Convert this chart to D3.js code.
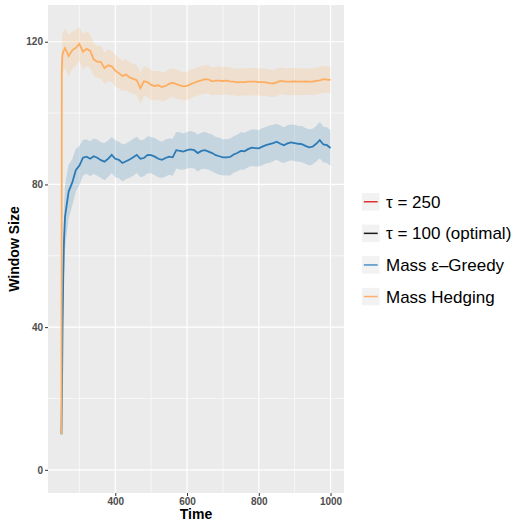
<!DOCTYPE html>
<html>
<head>
<meta charset="utf-8">
<script src="https://cdn.jsdelivr.net/npm/d3@7"></script>
<style>
  body { margin: 0; background: #fff; }
  svg { display: block; font-family: "Liberation Sans", Arial, sans-serif; }
</style>
</head>
<body>
<script>
// time steps (x)
var times = [250, 251, 252, 253, 255, 257,
  260, 270, 280, 290, 300, 310, 320, 330, 340, 350,
  360, 370, 380, 390, 400, 410, 420, 430, 440, 450,
  460, 470, 480, 490, 500, 510, 520, 530, 540, 550,
  560, 570, 580, 590, 600, 610, 620, 630, 640, 650,
  660, 670, 680, 690, 700, 710, 720, 730, 740, 750,
  760, 770, 780, 790, 800, 810, 820, 830, 840, 850,
  860, 870, 880, 890, 900, 910, 920, 930, 940, 950,
  960, 970, 980, 990, 1000];

// Mass Hedging
var hedging = [10, 112, 115, 116.5, 117.2, 117.6,
  118.2, 116.0, 117.6, 118.3, 119.4, 117.2, 118.0, 117.5, 115.0, 114.4,
  114.3, 112.6, 113.4, 113.1, 111.9, 111.2, 110.4, 110.8, 110.0, 109.6,
  109.2, 107.0, 108.9, 108.7, 107.9, 107.6, 107.8, 107.3, 107.6, 108.2,
  108.5, 108.1, 107.8, 107.5, 107.6, 108.1, 108.5, 108.9, 109.2, 109.5,
  109.4, 108.9, 109.1, 109.1, 109.0, 109.1, 108.9, 108.8, 108.6, 108.7,
  108.7, 108.8, 108.8, 108.8, 108.7, 108.7, 108.6, 108.4, 108.3, 108.6,
  109.0, 108.9, 108.8, 108.8, 108.9, 108.8, 108.8, 108.9, 108.8, 108.8,
  109.0, 109.2, 109.5, 109.4, 109.3];
var hedgingBand = [0, 5, 5.5, 5.5, 5.5, 5.5,
  5.5, 5.8, 5.2, 5.0, 4.8, 5.0, 4.9, 4.7, 4.6, 4.5,
  4.6, 4.4, 4.5, 4.3, 4.4, 4.3, 4.2, 4.4, 4.3, 4.2,
  4.3, 4.4, 4.2, 4.1, 4.2, 4.1, 4.0, 4.1, 4.0, 4.1,
  4.0, 4.1, 4.0, 3.9, 4.0, 4.1, 4.0, 4.0, 3.9, 4.0,
  4.0, 3.9, 3.9, 4.0, 3.9, 3.9, 3.9, 3.8, 3.9, 3.8,
  3.8, 3.9, 3.8, 3.8, 3.8, 3.9, 3.8, 3.8, 3.8, 3.8,
  3.8, 3.7, 3.8, 3.8, 3.8, 3.7, 3.8, 3.7, 3.7, 3.8,
  3.7, 3.8, 3.8, 3.7, 3.7];

// Mass eps-Greedy
var greedy = [10, 18, 28, 40, 54, 64,
  71, 78, 80.5, 84.0, 85.3, 87.5, 87.8, 87.2, 87.9, 87.5,
  86.8, 86.4, 87.2, 88.3, 87.2, 86.9, 86.0, 86.5, 87.0, 87.6,
  88.3, 87.2, 87.4, 88.3, 88.2, 87.8, 87.2, 86.9, 87.4, 87.8,
  87.6, 89.6, 89.4, 89.2, 89.6, 89.8, 89.6, 88.8, 89.4, 89.6,
  89.2, 88.8, 88.2, 87.9, 87.6, 87.6, 87.7, 88.4, 88.8, 89.4,
  89.3, 89.9, 90.3, 90.2, 90.1, 90.6, 91.0, 91.3, 91.6, 92.0,
  91.4, 91.0, 91.5, 91.8, 91.6, 91.4, 91.3, 90.8, 90.4, 90.6,
  91.4, 92.4, 91.2, 91.0, 90.2];
var greedyBand = [0, 4, 7, 9, 10, 9.5,
  9, 7.5, 6.5, 6.0, 5.5, 5.0, 4.8, 4.9, 5.0, 5.1,
  5.0, 5.2, 5.1, 5.0, 5.2, 5.1, 5.2, 5.0, 5.1, 5.2,
  5.1, 5.2, 5.1, 5.2, 5.1, 5.2, 5.2, 5.1, 5.2, 5.1,
  5.2, 5.1, 5.2, 5.1, 5.1, 5.2, 5.1, 5.2, 5.1, 5.2,
  5.1, 5.2, 5.1, 5.2, 5.1, 5.1, 5.2, 5.1, 5.1, 5.2,
  5.2, 5.1, 5.1, 5.2, 5.1, 5.2, 5.1, 5.2, 5.1, 5.0,
  5.1, 5.0, 5.1, 5.0, 5.1, 5.0, 5.1, 5.0, 5.1, 5.0,
  5.0, 5.1, 5.0, 5.0, 5.0];

var xTicks = [400, 600, 800, 1000];
var xMinor = [300, 500, 700, 900];
var yTicks = [0, 40, 80, 120];
var yMinor = [20, 60, 100];

var legendLabels = ["\u03C4 = 250", "\u03C4 = 100 (optimal)", "Mass \u03B5\u2013Greedy", "Mass Hedging"];
var legendColors = ["#e0302f", "#1a1a1a", "#4a90c8", "#fdb06a"];

var W = 516, H = 522;
var panel = { left: 48, right: 344, top: 5, bottom: 493 };

var x = d3.scaleLinear().domain([212.5, 1037.5]).range([panel.left, panel.right]);
var y = d3.scaleLinear().domain([-6.5, 130.3]).range([panel.bottom, panel.top]);

var svg = d3.select("body").append("svg").attr("width", W).attr("height", H);

svg.append("rect")
  .attr("x", panel.left).attr("y", panel.top)
  .attr("width", panel.right - panel.left).attr("height", panel.bottom - panel.top)
  .attr("fill", "#ebebeb");

svg.append("clipPath").attr("id", "clip").append("rect")
  .attr("x", panel.left).attr("y", panel.top)
  .attr("width", panel.right - panel.left).attr("height", panel.bottom - panel.top);

// grid
var grid = svg.append("g");
grid.selectAll(".xm").data(xMinor).enter().append("line")
  .attr("x1", function (d) { return x(d); }).attr("x2", function (d) { return x(d); })
  .attr("y1", panel.top).attr("y2", panel.bottom)
  .attr("stroke", "#fff").attr("stroke-width", 0.6);
grid.selectAll(".ym").data(yMinor).enter().append("line")
  .attr("y1", function (d) { return y(d); }).attr("y2", function (d) { return y(d); })
  .attr("x1", panel.left).attr("x2", panel.right)
  .attr("stroke", "#fff").attr("stroke-width", 0.6);
grid.selectAll(".xM").data(xTicks).enter().append("line")
  .attr("x1", function (d) { return x(d); }).attr("x2", function (d) { return x(d); })
  .attr("y1", panel.top).attr("y2", panel.bottom)
  .attr("stroke", "#fff").attr("stroke-width", 1.2);
grid.selectAll(".yM").data(yTicks).enter().append("line")
  .attr("y1", function (d) { return y(d); }).attr("y2", function (d) { return y(d); })
  .attr("x1", panel.left).attr("x2", panel.right)
  .attr("stroke", "#fff").attr("stroke-width", 1.2);

function rows(vals, band) {
  return times.map(function (t, i) {
    return { t: t, v: vals[i], lo: vals[i] - band[i], hi: vals[i] + band[i] };
  });
}
var greedyData = rows(greedy, greedyBand);
var hedgeData = rows(hedging, hedgingBand);

var area = d3.area()
  .x(function (d) { return x(d.t); })
  .y0(function (d) { return y(d.lo); })
  .y1(function (d) { return y(d.hi); });
var line = d3.line()
  .x(function (d) { return x(d.t); })
  .y(function (d) { return y(d.v); });

var plot = svg.append("g").attr("clip-path", "url(#clip)");
plot.append("path").datum(greedyData).attr("d", area)
  .attr("fill", "#2c7bb6").attr("fill-opacity", 0.2);
plot.append("path").datum(hedgeData).attr("d", area)
  .attr("fill", "#fdae61").attr("fill-opacity", 0.2);
plot.append("path").datum(greedyData).attr("d", line)
  .attr("fill", "none").attr("stroke", "#2c7bb6").attr("stroke-width", 1.8);
plot.append("path").datum(hedgeData).attr("d", line)
  .attr("fill", "none").attr("stroke", "#fdae61").attr("stroke-width", 1.8);

// axes
var xAxis = svg.append("g")
  .attr("transform", "translate(0," + panel.bottom + ")")
  .call(d3.axisBottom(x).tickValues(xTicks).tickFormat(d3.format("d")).tickSize(3).tickPadding(2));
var yAxis = svg.append("g")
  .attr("transform", "translate(" + panel.left + ",0)")
  .call(d3.axisLeft(y).tickValues(yTicks).tickFormat(d3.format("d")).tickSize(3).tickPadding(2));
[xAxis, yAxis].forEach(function (a) {
  a.select(".domain").remove();
  a.selectAll(".tick line").attr("stroke", "#333").attr("stroke-width", 1);
  a.selectAll(".tick text")
    .attr("fill", "#4d4d4d")
    .style("font-size", "10px")
    .style("font-weight", "bold")
    .style("font-family", "Liberation Sans, Arial, sans-serif");
});

svg.append("text")
  .attr("x", (panel.left + panel.right) / 2).attr("y", 519)
  .attr("text-anchor", "middle")
  .style("font-size", "14px").style("font-weight", "bold")
  .text("Time");

svg.append("text")
  .attr("transform", "translate(19," + (panel.top + panel.bottom) / 2 + ") rotate(-90)")
  .attr("text-anchor", "middle")
  .style("font-size", "14px").style("font-weight", "bold")
  .text("Window Size");

// legend
var legend = svg.append("g");
var items = legend.selectAll("g").data(legendLabels).enter().append("g")
  .attr("transform", function (d, i) { return "translate(362," + (193 + i * 31.6) + ")"; });
items.append("rect").attr("width", 17.5).attr("height", 17.5).attr("fill", "#f2f2f2");
items.append("line")
  .attr("x1", 1.8).attr("x2", 15.7).attr("y1", 8.75).attr("y2", 8.75)
  .attr("stroke", function (d, i) { return legendColors[i]; })
  .attr("stroke-width", 1.5);
items.append("text")
  .attr("x", 24).attr("y", 8.75).attr("dy", "0.36em")
  .style("font-size", "17px")
  .attr("fill", "#000")
  .text(function (d) { return d; });
</script>
</body>
</html>
